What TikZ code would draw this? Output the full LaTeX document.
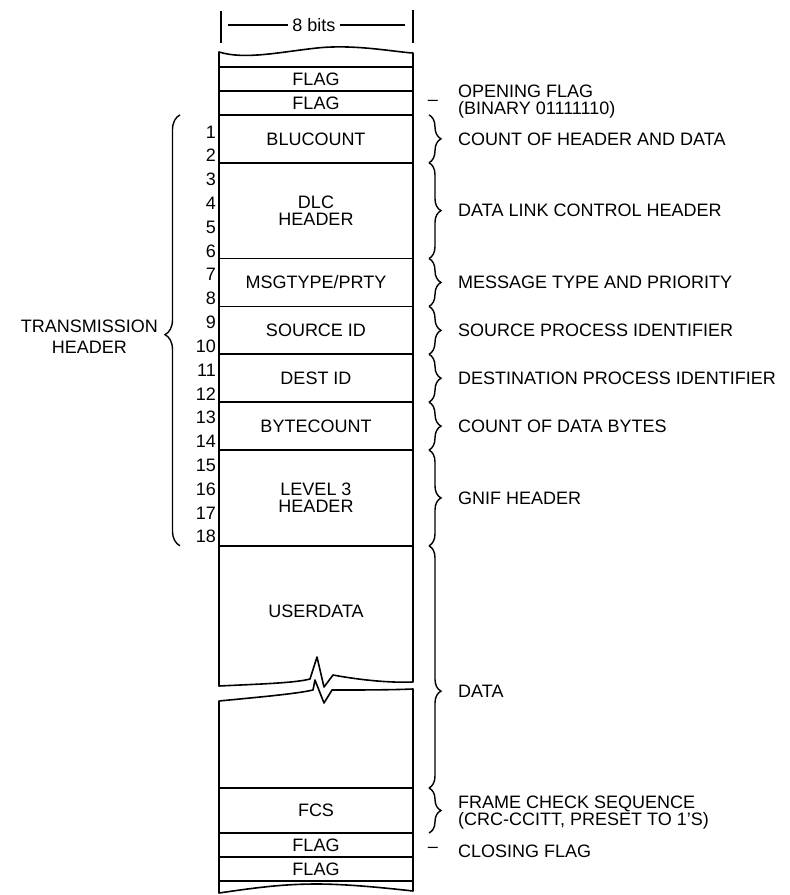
\documentclass[tikz,border=0pt]{standalone}
\usepackage{fontspec}
\setmainfont{Liberation Sans}
\usetikzlibrary{positioning,calc,decorations.pathreplacing}

\newcommand{\txt}{\fontsize{18}{17}\selectfont}

\begin{document}
\begin{tikzpicture}[x=1pt, y=-1pt,
  field/.style={draw, line width=1.6pt, minimum width=194pt, inner sep=0pt, outer sep=0pt,
    align=center, font=\txt},
  bytes/.style={minimum height=#1*23.94pt},
  num/.style={anchor=east, inner sep=0pt, font=\txt},
  desc/.style={anchor=west, inner sep=0pt, align=left, font=\txt},
  dashmark/.style={inner sep=0pt, font=\txt},
  rbrace/.style={decorate, decoration={brace, amplitude=12pt}, line width=1.4pt},
  wall/.style={line width=1.6pt, line join=round},
  rule/.style={line width=1.2pt}
]
  \useasboundingbox (0,0) rectangle (790,895);

  % width of a field
  \node[font=\txt, inner sep=4pt] (bits) at (314,25) {8 bits};
  \coordinate (wL) at (228,25);
  \coordinate (wR) at (405,25);
  \draw[rule] (wL) -- (bits);
  \draw[rule] (bits) -- (wR);
  \draw[wall] (221,11) -- (221,43);
  \draw[wall] (413,10) -- (413,43);

  % the frame, top down
  \node[field, bytes=1, anchor=north] (flagA) at (316,67) {FLAG};
  \node[field, bytes=1, below=0pt of flagA] (flagB) {FLAG};
  \node[field, bytes=2, below=0pt of flagB] (blu) {BLUCOUNT};
  \node[field, bytes=4, below=0pt of blu] (dlc) {DLC\\HEADER};
  \node[field, bytes=2, below=0pt of dlc] (msg) {MSGTYPE/PRTY};
  \node[field, bytes=2, below=0pt of msg] (src) {SOURCE ID};
  \node[field, bytes=2, below=0pt of src] (dst) {DEST ID};
  \node[field, bytes=2, below=0pt of dst] (cnt) {BYTECOUNT};
  \node[field, bytes=4, below=0pt of cnt] (lvl) {LEVEL 3\\HEADER};
  \node[font=\txt, below=56pt of lvl] (ud) {USERDATA};

  \node[field, minimum height=45pt, anchor=north] (fcs) at (316,788) {FCS};
  \node[field, bytes=1, below=0pt of fcs] (flagC) {FLAG};
  \node[field, bytes=1, below=0pt of flagC] (flagD) {FLAG};

  % torn ends
  \coordinate (topL) at (219,52);
  \coordinate (topR) at (413,53);
  \draw[wall] (flagA.north west) -- (topL) .. controls (245,60) and (280,52) .. (317,48)
    .. controls (355,44) and (395,52) .. (topR) -- (flagA.north east);
  \coordinate (botL) at (219,893);
  \coordinate (botR) at (413,891);
  \draw[wall] (flagD.south west) -- (botL) .. controls (260,887) and (285,884) .. (317,884)
    .. controls (350,884) and (395,889) .. (botR) -- (flagD.south east);

  % break in the user data
  \coordinate (bUL) at (219,686);
  \coordinate (bUR) at (413,682);
  \coordinate (bLL) at (219,701);
  \coordinate (bLR) at (413,689);
  \draw[wall] (lvl.south west) -- (bUL) .. controls (260,684) and (295,683) .. (310,679)
    -- (317,657) -- (324,687) -- (333,675) .. controls (360,680) and (390,683) .. (bUR)
    -- (lvl.south east);
  \draw[wall] (fcs.north west) -- (bLL) .. controls (260,697) and (295,694) .. (313,690)
    -- (315,680) -- (324,703) -- (332,690) .. controls (360,690) and (390,690) .. (bLR)
    -- (fcs.north east);

  % byte numbers
  \foreach \i in {1,...,18}
    \node[num] (n\i) at (216,{108+23.82*\i}) {\i};

  \draw[rbrace, decoration={amplitude=15pt, aspect=0.49}]
    ([xshift=-39pt]lvl.south west) -- ([xshift=-39pt]blu.north west);
  \node[font=\fontsize{18}{21}\selectfont, align=center, anchor=east, inner sep=0pt] (trans)
    at (158,337) {TRANSMISSION\\HEADER};

  % right-hand notes
  \foreach \f in {blu,dlc,msg,src,dst,cnt,lvl,fcs}
    \draw[rbrace] ([xshift=16pt]\f.north east) -- ([xshift=16pt]\f.south east);
  \draw[rbrace, decoration={aspect=0.6}]
    ([xshift=16pt]lvl.south east) -- ([xshift=16pt]fcs.north east);

  \node[dashmark] (mOpen) at ([xshift=20pt]flagB.east) {--};
  \node[desc] (dOpen) at ([xshift=45pt,yshift=1pt]flagB.east) {OPENING FLAG\\(BINARY 01111110)};
  \node[desc] (dBlu) at ([xshift=45pt]blu.east) {COUNT OF HEADER AND DATA};
  \node[desc] (dDlc) at ([xshift=45pt]dlc.east) {DATA LINK CONTROL HEADER};
  \node[desc] (dMsg) at ([xshift=45pt]msg.east) {MESSAGE TYPE AND PRIORITY};
  \node[desc] (dSrc) at ([xshift=45pt]src.east) {SOURCE PROCESS IDENTIFIER};
  \node[desc] (dDst) at ([xshift=45pt]dst.east) {DESTINATION PROCESS IDENTIFIER};
  \node[desc] (dCnt) at ([xshift=45pt]cnt.east) {COUNT OF DATA BYTES};
  \node[desc] (dLvl) at ([xshift=45pt]lvl.east) {GNIF HEADER};
  \node[desc] (dData) at (458,691) {DATA};
  \node[desc] (dFcs) at ([xshift=45pt,yshift=-2pt]fcs.east) {FRAME CHECK SEQUENCE\\(CRC-CCITT, PRESET TO 1'S)};
  \node[dashmark] (mClose) at ([xshift=20pt,yshift=-5pt]flagC.east) {--};
  \node[desc] (dClose) at ([xshift=45pt,yshift=-6pt]flagC.east) {CLOSING FLAG};
\end{tikzpicture}
\end{document}
